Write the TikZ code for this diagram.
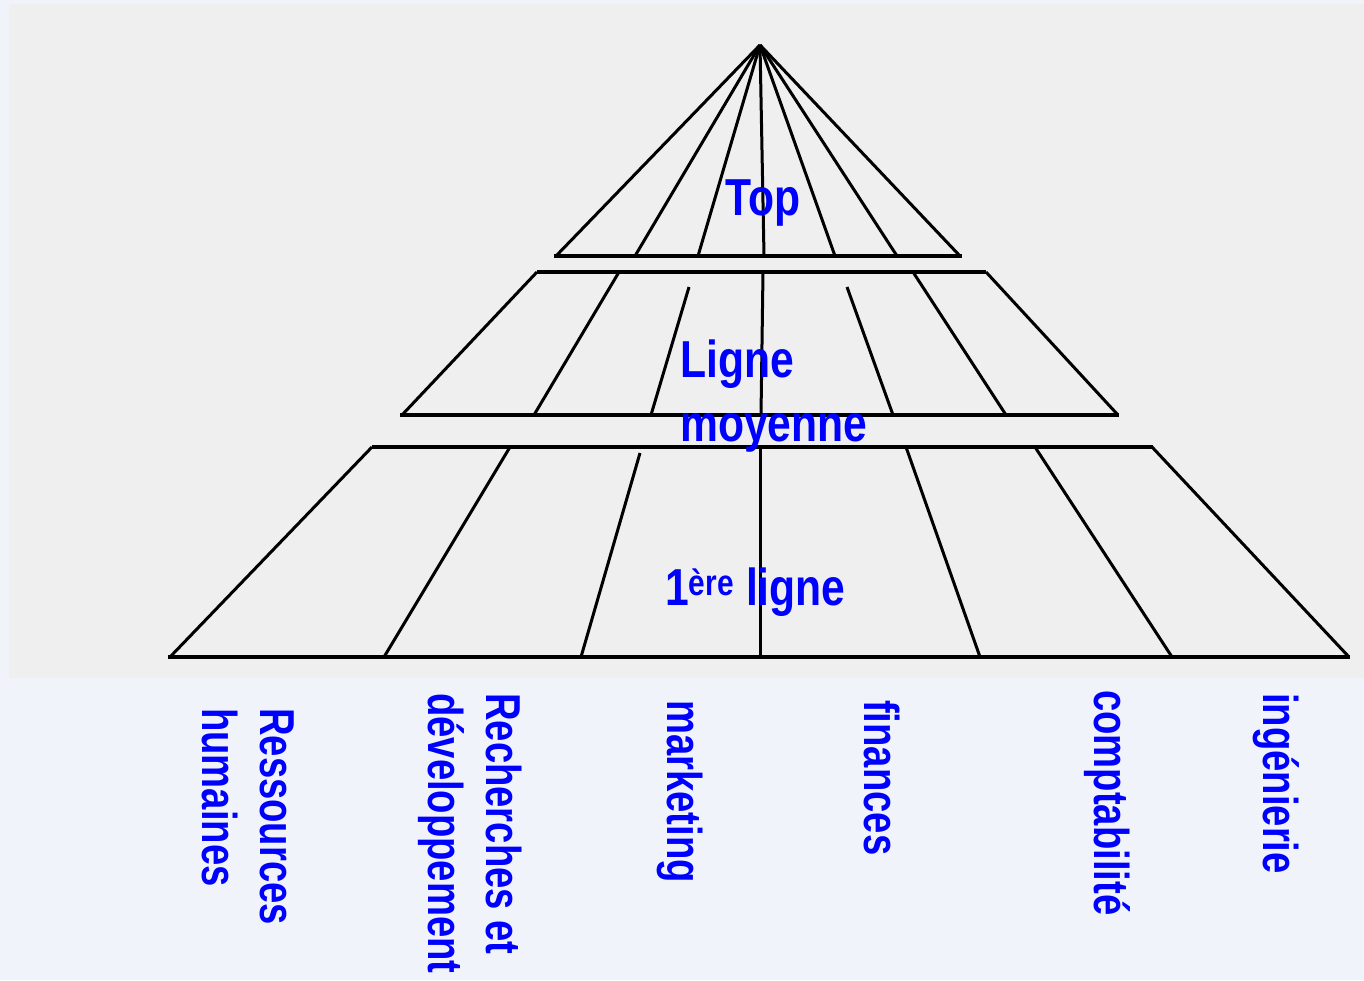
\documentclass[tikz,border=0pt]{standalone}
\usepackage{fontspec}
\setmainfont{Liberation Sans}
\newfontfamily\levelfont{Liberation Sans}[FakeStretch=0.82]
\newfontfamily\deptfont{Liberation Sans}[FakeStretch=0.78]
\usetikzlibrary{positioning}
\definecolor{slidebg}{HTML}{F0F4FA}
\definecolor{panelgray}{HTML}{EFEFEF}
\definecolor{labelblue}{HTML}{0000FF}
\tikzset{
  tierline/.style={line width=4pt},
  splitline/.style={line width=3pt},
  level/.style={font=\levelfont\bfseries\fontsize{52}{64}\selectfont,text=labelblue,
    inner sep=0pt,align=left},
  dept/.style={font=\deptfont\bfseries\fontsize{49}{58}\selectfont,text=labelblue,
    inner sep=0pt,align=left,rotate=-90}
}

\begin{document}
\begin{tikzpicture}[x=1pt,y=-1pt]
  % Background
  \fill[slidebg] (0,0) rectangle (1364,980);
  \fill[panelgray] (9,4) rectangle (1364,678);
  % Top tier
  \coordinate (apex) at (760,45);
  \foreach \bx in {556,635,698,764,835,897,960}
    \draw[splitline] (apex) -- (\bx,256);
  \draw[tierline] (554,256) -- (962,256);
  % Middle tier
  \foreach \tx/\ty/\bx in {537/272/402, 619/272/534, 689/287/651, 763/272/761,
                            847/287/893, 913/272/1006, 986/272/1118}
    \draw[splitline] (\tx,\ty) -- (\bx,415);
  \draw[tierline] (537,272) -- (986,272);
  \draw[tierline] (400,415) -- (1119,415);
  % Bottom tier
  \foreach \tx/\ty/\bx in {372/447/170, 510/447/384, 640/453/581, 760/447/760,
                            906/447/980, 1035/447/1172, 1152/447/1349}
    \draw[splitline] (\tx,\ty) -- (\bx,657);
  \draw[tierline] (372,447) -- (1153,447);
  \draw[tierline] (168,657) -- (1350,657);
  % Levels
  \node[level,anchor=base west] (top) at (725,215) {Top};
  \node[level,anchor=north west] (middle) at (680,340) {Ligne\\moyenne};
  \node[level,anchor=base west] (first) at (665,605) {1\textsuperscript{ère} ligne};
  % Departments
  \node[dept,anchor=north west] (hr) at (294,708) {Ressources\\humaines};
  \node[dept,anchor=north west] (rd) at (522,693) {Recherches et\\développement};
  \node[dept,anchor=base west] (mkt) at (667,700) {marketing};
  \node[dept,anchor=base west] (fin) at (864,700) {finances};
  \node[dept,anchor=base west] (acc) at (1094,690) {comptabilité};
  \node[dept,anchor=base west] (eng) at (1263,693) {ingénierie};
\end{tikzpicture}
\end{document}
